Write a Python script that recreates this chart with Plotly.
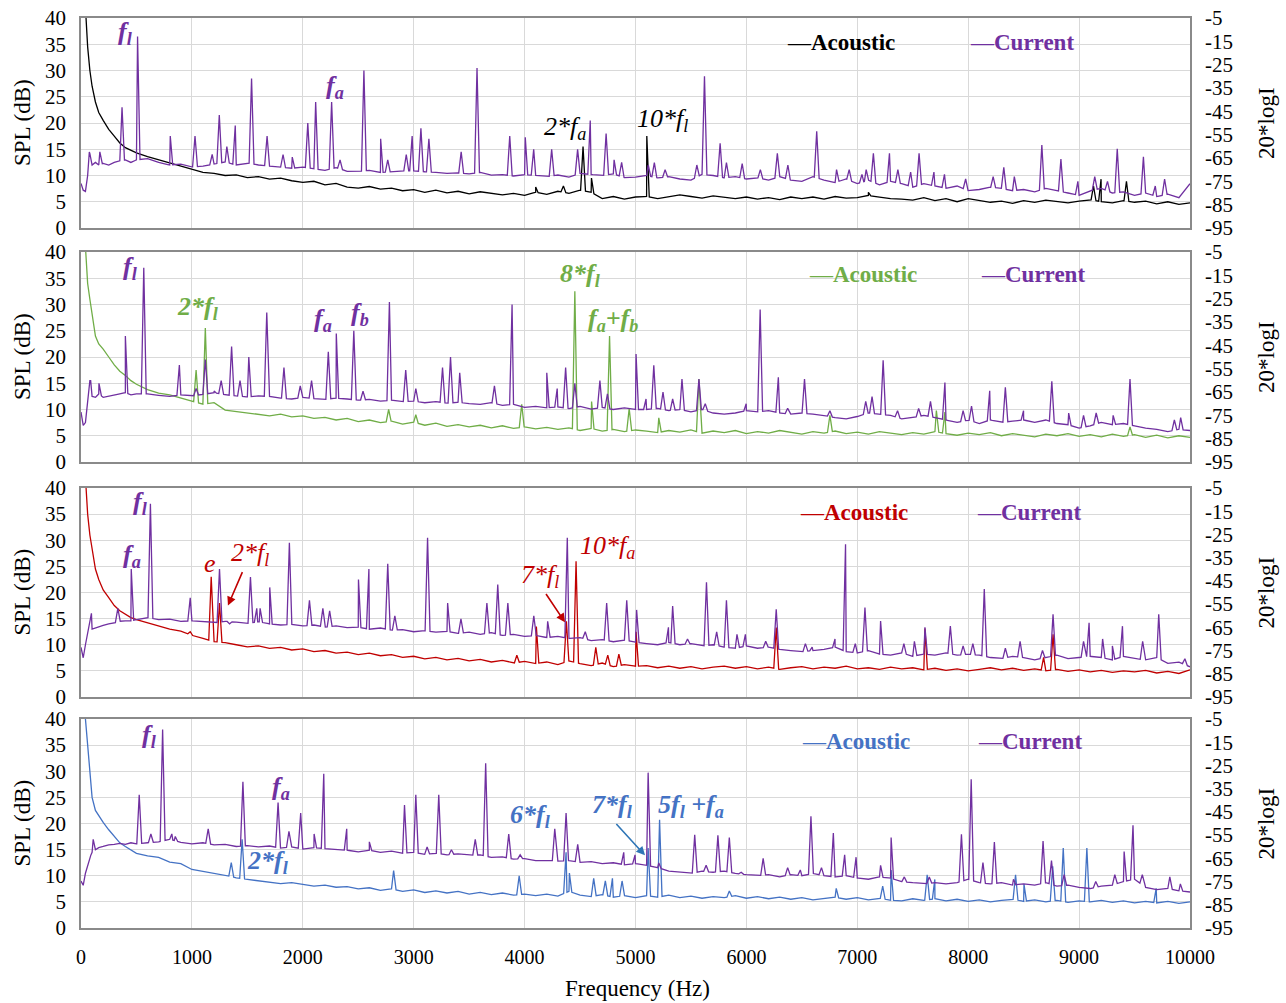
import numpy as np
import plotly.graph_objects as go

# ---------------- data ----------------
FREQ_LOW = [0, 20, 40, 60, 80, 100, 130, 160, 200, 250, 300, 350, 400, 450, 500]
FREQ_GRID = FREQ_LOW + list(range(600, 10001, 100))

X_TICKS = [0, 1000, 2000, 3000, 4000, 5000, 6000, 7000, 8000, 9000, 10000]
Y_LEFT_TICKS = [0, 5, 10, 15, 20, 25, 30, 35, 40]
Y_RIGHT_TICKS = [-95, -85, -75, -65, -55, -45, -35, -25, -15, -5]

# Panel 1 : acoustic (SPL dB) / current (20*logI)
P1_ACOUSTIC = [45, 45, 42, 34.5, 30, 27, 24, 22, 20.5, 18.8, 17.5, 16.2, 15.3, 14.8, 14.3,
               13.6, 13.0, 12.3, 11.8, 11.2, 10.6, 10.4, 10.0, 10.1, 9.6,
               9.8, 9.3, 9.5, 9.0, 8.7, 8.9, 8.2, 8.5, 7.8, 7.6,
               7.9, 7.4, 7.6, 7.1, 7.3, 6.8, 7.2, 6.7, 7.0, 6.5,
               6.9, 6.6, 6.3, 6.6, 6.2, 6.8, 6.4, 7.0, 6.6, 7.2,
               6.8, 5.6, 6.0, 5.5, 5.9,
               6.0, 5.6, 5.9, 6.3, 6.0, 5.7, 6.1, 5.8, 5.6, 5.9,
               5.5, 5.8, 5.4, 5.9, 5.6, 5.9, 5.5, 6.0, 5.7, 5.8,
               6.2, 5.9, 5.6, 5.5, 5.3, 5.8, 5.2, 5.6, 5.0, 5.6,
               5.2, 4.9, 5.1, 4.7, 5.2, 4.9, 5.3, 5.0, 4.8, 5.1,
               5.4, 5.0, 4.8, 5.2, 4.9, 5.1, 4.6, 5.0, 4.5, 4.8]
P1_ACOUSTIC_PEAKS = [(4100, 7.8), (4350, 8.0), (4527, 15.5), (4603, 9.5), (5102, 17.5),
                     (7100, 6.8), (9130, 8.0), (9198, 9.3), (9427, 8.9)]
P1_CURRENT = [-75.9, -78.8, -79.3, -72.5, -63.1, -68.0, -66.9, -68.0, -67.3, -68.0, -66.9, -66.2, -65.8, -66.9, -65.8,
              -65.3, -66.9, -68.0, -67.6, -68.9, -68.5, -67.6, -66.7, -68.0, -67.1,
              -68.0, -68.5, -68.9, -69.4, -68.9, -69.6, -70.3, -69.1, -70.7, -70.7,
              -70.3, -71.2, -70.9, -70.5, -70.5, -70.9, -71.2, -71.6, -71.4, -71.8,
              -71.2, -72.3, -72.1, -72.7, -72.1, -72.5, -73.0, -72.3, -73.2, -71.6,
              -72.1, -72.5, -71.8, -73.4, -73.2,
              -72.5, -73.5, -73.0, -74.0, -74.5, -72.0, -72.5, -73.5, -73.0, -74.0,
              -73.5, -74.5, -73.0, -74.5, -75.0, -73.0, -74.5, -75.5, -74.0, -76.0,
              -74.5, -76.5, -75.0, -76.0, -77.5, -76.0, -77.0, -78.0, -77.0, -79.0,
              -78.5, -77.5, -78.0, -79.0, -78.5, -79.5, -78.0, -79.0, -80.0, -81.0,
              -79.0, -78.0, -80.0, -79.5, -81.0, -80.0, -81.5, -80.5, -82.0, -76.0]
P1_CURRENT_PEAKS = [(75, -62.4), (170, -62.4), (370, -43.3), (510, -12.9), (805, -55.6), (1028, -55.6),
                    (1183, -63.5), (1247, -46.6), (1315, -60.1), (1391, -51.1), (1538, -30.9), (1678, -55.6),
                    (1822, -63.5), (1905, -64.6), (2045, -50.0), (2116, -41.0), (2260, -41.0), (2336, -65.8),
                    (2551, -27.5), (2702, -56.8), (2766, -65.8), (2933, -63.5), (2986, -55.6), (3065, -52.3),
                    (3137, -56.8), (3428, -62.4), (3571, -26.4), (3866, -55.6), (4006, -56.1), (4082, -61.3),
                    (4244, -61.3), (4478, -61.3), (4592, -48.9), (4735, -54.5), (4807, -65.8), (4875, -66.9),
                    (5115, -68.0), (5170, -67.0), (5267, -70.0), (5553, -68.0), (5622, -30.0), (5763, -58.7),
                    (5820, -67.0), (5962, -67.4), (6126, -70.0), (6279, -63.0), (6374, -68.0), (6634, -53.6),
                    (6813, -70.0), (6927, -70.0), (7042, -72.0), (7080, -70.0), (7145, -63.0), (7290, -63.0),
                    (7366, -70.0), (7481, -71.0), (7557, -63.0), (7691, -71.0), (7786, -72.0), (7977, -74.0),
                    (8225, -73.0), (8321, -69.0), (8416, -73.0), (8664, -59.4), (8836, -65.5), (8989, -75.0),
                    (9141, -73.0), (9256, -75.0), (9344, -61.0), (9580, -64.5), (9687, -77.0), (9771, -74.0)]

# Panel 2
P2_ACOUSTIC = [45, 45, 41, 34, 31, 28, 24, 22.5, 21.5, 20, 18.5, 17.3, 16.5, 15.5, 14.8,
               13.8, 13.1, 12.8, 12.2, 11.6, 11.0, 11.3, 9.9, 9.6, 9.4,
               9.0, 8.8, 9.1, 8.6, 8.8, 8.3, 8.5, 8.0, 8.3, 7.7,
               8.0, 7.5, 7.8, 7.2, 7.6, 7.0, 7.4, 6.8, 7.1, 6.7,
               7.0, 6.5, 6.9, 6.4, 6.7, 6.3, 6.6, 6.2, 6.5, 6.0,
               6.4, 5.9, 6.2, 5.8, 6.1,
               5.9, 5.6, 6.0, 5.7, 6.1, 5.5, 5.9, 5.6, 6.0, 5.4,
               5.8, 5.5, 6.0, 5.6, 5.3, 5.8, 5.5, 5.9, 5.4, 5.7,
               5.3, 5.8, 5.5, 5.2, 5.6, 5.3, 5.8, 5.4, 5.1, 5.5,
               5.2, 5.6, 5.0, 5.4, 5.1, 4.8, 5.3, 5.0, 5.4, 4.9,
               5.2, 4.8, 5.3, 4.9, 5.2, 4.7, 5.1, 4.6, 5.0, 4.7]
P2_ACOUSTIC_PEAKS = [(1038, 17.5), (1121, 25.5), (2774, 10.0), (3019, 9.0), (3974, 11.0), (4453, 32.5),
                     (4604, 11.5), (4766, 24.0), (4943, 10.2), (5210, 8.4), (5572, 15.8), (6753, 8.9),
                     (7713, 9.8), (7790, 9.5), (9459, 6.7)]
P2_CURRENT = [-73.6, -79.3, -78.1, -70.3, -60.1, -66.9, -67.3, -65.8, -67.3, -66.9, -66.2, -65.8, -65.3, -66.2, -65.8,
              -65.8, -66.4, -66.9, -66.2, -66.7, -66.0, -65.3, -66.2, -66.7, -67.1,
              -66.7, -66.9, -67.6, -68.0, -67.3, -67.8, -68.2, -67.6, -68.0, -68.5,
              -68.2, -68.9, -68.5, -69.1, -68.9, -69.6, -69.1, -69.8, -69.4, -70.0,
              -70.3, -69.6, -70.7, -70.3, -71.6, -71.2, -71.8, -71.4, -72.1, -71.2,
              -72.3, -71.6, -72.5, -71.8, -72.5,
              -72.5, -72.0, -73.0, -72.5, -73.5, -72.5, -74.0, -74.5, -74.0, -73.0,
              -73.5, -73.0, -74.0, -74.5, -74.0, -74.5, -75.0, -76.0, -76.5, -75.5,
              -74.0, -74.5, -75.0, -76.5, -76.0, -75.0, -76.0, -77.0, -78.0, -77.0,
              -78.5, -77.0, -78.0, -77.5, -77.0, -78.0, -77.0, -78.5, -79.0, -80.5,
              -79.5, -78.0, -79.0, -78.5, -79.5, -80.5, -81.0, -82.0, -81.0, -81.5]
P2_CURRENT_PEAKS = [(87, -60.1), (162, -61.3), (400, -41.0), (566, -11.8), (887, -53.4), (1038, -63.5),
                    (1121, -51.1), (1200, -64.6), (1264, -60.1), (1358, -45.5), (1434, -60.1), (1513, -50.0),
                    (1675, -30.9), (1830, -54.5), (1977, -62.4), (2079, -60.1), (2230, -47.8), (2302, -39.9),
                    (2460, -38.8), (2543, -64.6), (2781, -26.4), (2928, -55.6), (3019, -63.5), (3260, -54.5),
                    (3332, -50.0), (3415, -56.8), (3728, -62.4), (3887, -27.5), (4200, -56.8), (4294, -63.5),
                    (4370, -54.5), (4453, -61.3), (4679, -60.1), (4747, -65.8), (5005, -48.7), (5095, -68.0),
                    (5165, -53.5), (5248, -65.0), (5335, -68.0), (5419, -59.4), (5572, -59.4), (5629, -70.0),
                    (5998, -70.0), (6124, -29.7), (6288, -58.7), (6372, -72.0), (6524, -59.4), (6753, -73.0),
                    (7076, -69.0), (7133, -67.0), (7233, -51.4), (7363, -73.0), (7553, -72.0), (7660, -69.0),
                    (7790, -60.9), (7954, -73.0), (8030, -71.0), (8194, -64.5), (8335, -63.0), (8499, -73.0),
                    (8754, -60.4), (8906, -74.0), (9040, -75.0), (9154, -74.0), (9307, -75.0), (9459, -59.4),
                    (9859, -77.0), (9916, -76.0)]

# Panel 3
P3_ACOUSTIC = [45, 45, 42, 35, 31, 28, 24.5, 22.5, 20.5, 19, 17.5, 16.5, 15.8, 15.2, 14.8,
               14.2, 13.6, 13.0, 12.6, 11.8, 11.2, 10.6, 10.4, 10.0, 9.6,
               9.8, 9.3, 9.5, 9.0, 9.2, 8.7, 8.9, 8.4, 8.6, 8.1,
               8.4, 7.9, 8.1, 7.6, 7.8, 7.3, 7.6, 7.1, 7.4, 6.9,
               7.2, 6.7, 7.0, 6.5, 6.8, 6.4, 6.7, 6.2, 6.9, 6.4,
               6.0, 6.5, 5.8, 6.2, 5.9,
               6.0, 5.6, 5.9, 5.5, 5.8, 5.4, 5.7, 5.9, 5.5, 5.8,
               5.4, 5.7, 5.3, 5.6, 5.8, 5.4, 5.7, 5.5, 5.9, 5.4,
               5.6, 5.3, 5.7, 5.4, 5.6, 5.2, 5.5, 5.1, 5.4, 5.0,
               5.3, 5.6, 5.2, 5.5, 5.1, 5.4, 5.0, 5.3, 4.9, 5.2,
               4.8, 5.1, 4.7, 5.0, 4.8, 5.1, 4.6, 4.9, 4.5, 5.2]
P3_ACOUSTIC_PEAKS = [(985, 12.5), (1174, 23.0), (1249, 18.0), (3930, 8.0), (4106, 13.5), (4377, 14.5),
                     (4464, 26.0), (4642, 9.5), (4750, 8.0), (4850, 8.2), (5005, 12.5), (6269, 13.3),
                     (7610, 13.1), (8680, 7.6), (8765, 12.0)]
P3_CURRENT = [-73.6, -78.1, -72.5, -66.9, -62.4, -65.8, -65.3, -64.6, -64.2, -63.5, -63.1, -62.4, -62.2, -62.2, -61.7,
              -60.8, -61.7, -61.5, -62.4, -62.2, -62.6, -63.1, -62.4, -62.8, -63.3,
              -62.6, -63.5, -64.0, -63.7, -64.4, -64.0, -64.9, -64.4, -65.1, -64.9,
              -65.8, -65.3, -66.2, -66.0, -66.9, -66.4, -67.1, -66.7, -67.6, -67.1,
              -68.0, -67.3, -68.5, -68.0, -68.9, -68.5, -69.4, -68.9, -69.8, -69.4,
              -70.7, -70.3, -71.2, -70.5, -71.4,
              -72.0, -72.5, -71.5, -72.5, -72.0, -73.0, -72.5, -73.5, -74.0, -73.0,
              -74.0, -73.5, -74.5, -75.0, -75.5, -75.0, -74.5, -73.5, -75.5, -76.0,
              -75.0, -76.5, -77.0, -76.0, -77.5, -76.5, -77.0, -76.0, -77.0, -76.5,
              -77.0, -78.0, -78.5, -77.5, -78.0, -79.0, -78.0, -77.0, -78.5, -78.0,
              -77.5, -78.0, -79.0, -77.5, -78.5, -79.0, -78.0, -80.5, -80.0, -82.0]
P3_CURRENT_PEAKS = [(94, -59.0), (332, -56.8), (453, -39.9), (626, -11.8), (985, -52.3), (1249, -39.9),
                    (1340, -63.5), (1528, -43.3), (1585, -56.8), (1615, -56.8), (1702, -47.8), (1879, -28.6),
                    (2060, -53.4), (2181, -56.8), (2242, -57.9), (2502, -44.4), (2596, -39.9), (2766, -37.6),
                    (2830, -60.1), (3125, -26.4), (3306, -54.5), (3426, -61.3), (3660, -54.5), (3758, -46.6),
                    (3849, -54.5), (4083, -60.1), (4208, -62.4), (4385, -26.4), (4547, -66.9), (4740, -54.5),
                    (4921, -53.4), (5010, -57.5), (5297, -65.0), (5335, -55.8), (5469, -70.0), (5640, -45.6),
                    (5732, -67.0), (5820, -53.3), (5915, -68.0), (5991, -68.0), (6174, -71.0), (6269, -57.2),
                    (6532, -72.0), (6593, -73.5), (6799, -70.0), (6894, -29.2), (6982, -72.0), (7069, -56.5),
                    (7210, -62.3), (7420, -72.0), (7515, -71.0), (7610, -65.0), (7839, -64.5), (7954, -73.0),
                    (8042, -72.0), (8145, -48.5), (8335, -74.0), (8468, -71.0), (8670, -75.0), (8765, -59.4),
                    (9040, -71.0), (9090, -63.0), (9212, -70.0), (9300, -73.0), (9391, -64.5), (9573, -71.0),
                    (9718, -59.4), (9954, -78.5)]

# Panel 4
P4_ACOUSTIC = [45, 45, 40, 34.5, 30, 25, 22.5, 21.5, 20.2, 18.8, 17.5, 16.3, 15.6, 15.0, 14.3,
               13.8, 13.5, 12.6, 12.3, 11.2, 10.8, 10.4, 10.1, 9.6, 9.3,
               9.0, 8.8, 8.5, 8.7, 8.3, 8.0, 8.2, 7.8, 7.9, 7.5,
               7.7, 7.2, 7.5, 7.0, 7.3, 6.8, 7.1, 6.7, 7.0, 6.5,
               6.8, 6.4, 6.7, 6.3, 6.5, 6.2, 6.5, 6.1, 7.0, 6.3,
               6.0, 6.4, 5.9, 6.2, 5.8,
               6.2, 5.9, 6.3, 5.8, 6.1, 5.7, 6.0, 5.8, 6.2, 5.7,
               6.0, 5.6, 5.9, 5.5, 5.8, 5.4, 5.7, 5.9, 5.5, 5.8,
               5.4, 5.7, 5.3, 5.2, 5.6, 5.3, 5.6, 5.2, 5.5, 5.1,
               5.4, 5.0, 5.3, 5.5, 5.1, 5.4, 5.0, 5.3, 4.9, 5.2,
               5.0, 5.3, 4.9, 5.2, 4.8, 5.1, 4.8, 5.1, 4.7, 5.0]
P4_ACOUSTIC_PEAKS = [(1355, 12.5), (1453, 17.0), (2819, 11.0), (3951, 10.0), (4374, 14.5), (4404, 10.5),
                     (4623, 9.5), (4728, 9.0), (4792, 9.5), (4879, 9.0), (5114, 15.3), (5217, 20.7),
                     (5846, 7.1), (6810, 7.6), (7229, 8.0), (7305, 11.1), (7630, 10.2), (7699, 9.3),
                     (8427, 10.2), (8503, 8.4), (8762, 11.8), (8857, 15.3), (9070, 15.3), (9695, 7.6)]
P4_CURRENT = [-74.8, -76.6, -71.4, -68.0, -64.6, -62.4, -61.3, -60.4, -59.9, -59.2, -59.0, -58.6, -59.0, -58.3, -58.8,
              -58.3, -57.9, -56.8, -58.1, -58.8, -58.3, -59.2, -59.0, -59.9, -59.5,
              -60.1, -59.7, -60.6, -60.1, -61.0, -60.4, -60.8, -61.3, -61.5, -62.2,
              -61.5, -62.4, -61.9, -62.8, -62.4, -63.3, -62.8, -63.5, -63.1, -63.7,
              -63.5, -64.6, -64.4, -65.3, -65.1, -66.0, -65.8, -66.2, -66.0, -66.7,
              -66.4, -67.3, -66.9, -67.8, -67.3,
              -68.0, -69.0, -70.5, -71.0, -71.5, -70.5, -71.0, -70.5, -71.5, -72.0,
              -72.5, -72.0, -73.0, -72.0, -72.5, -71.5, -72.5, -73.0, -72.5, -73.5,
              -74.0, -73.0, -73.5, -75.0, -75.5, -76.0, -75.5, -76.0, -75.5, -74.0,
              -75.5, -76.0, -75.5, -76.5, -76.0, -76.5, -75.5, -77.0, -76.5, -77.5,
              -78.0, -77.0, -76.5, -75.0, -74.0, -77.5, -78.5, -78.0, -79.0, -79.5]
P4_CURRENT_PEAKS = [(110, -56.8), (525, -37.6), (630, -54.5), (736, -9.5), (819, -54.5), (850, -55.6),
                    (1147, -52.3), (1460, -32.0), (1777, -41.0), (1875, -53.4), (1981, -45.5), (2102, -54.5),
                    (2189, -28.6), (2396, -52.3), (2600, -57.9), (2917, -42.1), (3019, -37.6), (3121, -60.1),
                    (3226, -37.6), (3340, -61.3), (3555, -56.8), (3649, -24.1), (3857, -54.5), (3960, -63.5),
                    (4272, -52.3), (4374, -45.5), (4479, -59.0), (4894, -62.4), (4996, -63.5), (5114, -28.1),
                    (5210, -67.0), (5534, -54.9), (5637, -68.0), (5743, -55.1), (5846, -56.0), (5953, -71.0),
                    (6151, -65.0), (6372, -69.0), (6486, -70.0), (6582, -46.9), (6677, -69.0), (6784, -54.1),
                    (6886, -63.5), (6989, -64.5), (7210, -68.0), (7305, -56.0), (7424, -73.0), (7649, -73.0),
                    (7939, -54.6), (8027, -31.0), (8133, -66.8), (8236, -58.0), (8408, -74.0), (8675, -57.5),
                    (8751, -66.0), (8865, -72.0), (9150, -75.0), (9322, -72.0), (9406, -62.1), (9486, -50.8),
                    (9570, -72.0), (9818, -73.0), (9913, -76.0)]

SERIES_NAMES = ["Acoustic", "Current"]

# ---------------- styling ----------------
PURPLE = "#7030A0"
ACOUSTIC_COLORS = ["#000000", "#70AD47", "#C00000", "#4472C4"]
FONT = "Liberation Serif"
GRID = "#d9d9d9"
FRAME = "#8a8a8a"

W, H = 1286, 1003
ML, MR, MT, MB = 81, 96, 18, 75
PLOT_H = H - MT - MB
PLOT_W = W - ML - MR
PANEL_PX = [(18, 228), (252, 462), (488, 697), (719, 928)]
PEAK_HALF = 22


def build(base, peaks):
    f = np.array(FREQ_GRID, dtype=float)
    v = np.array(base, dtype=float)
    assert len(f) == len(v)
    xs, ys = list(f), list(v)
    for pf, pv in peaks:
        for off in (-PEAK_HALF, PEAK_HALF):
            xs.append(pf + off)
            ys.append(float(np.interp(pf + off, f, v)))
        xs.append(pf)
        ys.append(pv)
    order = np.argsort(np.array(xs), kind="stable")
    return np.array(xs)[order], np.array(ys)[order]


panels = [
    (P1_ACOUSTIC, P1_ACOUSTIC_PEAKS, P1_CURRENT, P1_CURRENT_PEAKS),
    (P2_ACOUSTIC, P2_ACOUSTIC_PEAKS, P2_CURRENT, P2_CURRENT_PEAKS),
    (P3_ACOUSTIC, P3_ACOUSTIC_PEAKS, P3_CURRENT, P3_CURRENT_PEAKS),
    (P4_ACOUSTIC, P4_ACOUSTIC_PEAKS, P4_CURRENT, P4_CURRENT_PEAKS),
]

fig = go.Figure()
layout = dict(width=W, height=H, margin=dict(l=ML, r=MR, t=MT, b=MB, autoexpand=False),
              paper_bgcolor="white", plot_bgcolor="white", showlegend=False,
              font=dict(family=FONT, size=20, color="black"))
annotations = []
shapes = []


def dom(top, bot):
    return [(H - MB - bot) / PLOT_H, (H - MB - top) / PLOT_H]


for i, (ac, acp, cu, cup) in enumerate(panels, start=1):
    xk = "x" if i == 1 else f"x{i}"
    yl = "y" if i == 1 else f"y{i}"
    yr = f"y{i + 4}"
    xa, ya = build(ac, acp)
    xc, yc = build(cu, cup)
    fig.add_trace(go.Scatter(x=xa, y=ya, mode="lines", name=SERIES_NAMES[0], xaxis=xk, yaxis=yl,
                             line=dict(color=ACOUSTIC_COLORS[i - 1], width=1.3)))
    fig.add_trace(go.Scatter(x=xc, y=yc, mode="lines", name=SERIES_NAMES[1], xaxis=xk, yaxis=yr,
                             line=dict(color=PURPLE, width=1.3)))
    top, bot = PANEL_PX[i - 1]
    d = dom(top, bot)
    layout["xaxis" if i == 1 else f"xaxis{i}"] = dict(
        domain=[0, 1], anchor=yl, range=[0, 10000], tickvals=X_TICKS,
        ticktext=[str(t) for t in X_TICKS], showticklabels=(i == 4),
        showgrid=True, gridcolor=GRID, gridwidth=1, zeroline=False,
        showline=True, linecolor=FRAME, linewidth=1.5, mirror=True, ticks="",
        tickfont=dict(family=FONT, size=20), ticklabelstandoff=10)
    layout["yaxis" if i == 1 else f"yaxis{i}"] = dict(
        domain=d, anchor=xk, range=[0, 40], tickvals=Y_LEFT_TICKS,
        ticktext=[str(t) for t in Y_LEFT_TICKS],
        showgrid=True, gridcolor=GRID, gridwidth=1, zeroline=False,
        showline=True, linecolor=FRAME, linewidth=1.5, mirror=True, ticks="",
        tickfont=dict(family=FONT, size=21), ticklabelstandoff=9)
    layout[f"yaxis{i + 4}"] = dict(
        overlaying=yl, side="right", anchor=xk, range=[-95, -5], tickvals=Y_RIGHT_TICKS,
        ticktext=[str(t) for t in Y_RIGHT_TICKS], showgrid=False, zeroline=False,
        showline=False, ticks="", tickfont=dict(family=FONT, size=21), ticklabelstandoff=14)
    # axis titles
    yc_paper = (d[0] + d[1]) / 2
    annotations.append(dict(text="SPL (dB)", xref="paper", yref="paper", x=(22 - ML) / PLOT_W,
                            y=yc_paper, textangle=-90, showarrow=False, xanchor="center", yanchor="middle",
                            font=dict(family=FONT, size=23)))
    annotations.append(dict(text="20*logI", xref="paper", yref="paper", x=(1266 - ML) / PLOT_W,
                            y=yc_paper, textangle=-90, showarrow=False, xanchor="center", yanchor="middle",
                            font=dict(family=FONT, size=23)))

# legend boxes and texts
LEG = [  # box x0, x1, text y, acoustic x, current x
    (5670, 9580, 35.4, 6853, 8485),
    (6000, 9570, 35.8, 7051, 8584),
    (5880, 9570, 35.4, 6970, 8548),
    (5880, 9570, 35.6, 6988, 8557),
]
for i, (bx0, bx1, ty, axx, cxx) in enumerate(LEG, start=1):
    xk = "x" if i == 1 else f"x{i}"
    yl = "y" if i == 1 else f"y{i}"
    shapes.append(dict(type="rect", xref=xk, yref=yl, x0=bx0, x1=bx1, y0=ty - 2.3, y1=ty + 2.3,
                       fillcolor="white", line=dict(width=0), layer="below"))
    annotations.append(dict(text="—<b>" + SERIES_NAMES[0] + "</b>", xref=xk, yref=yl, x=axx, y=ty,
                            showarrow=False, font=dict(family=FONT, size=23, color=ACOUSTIC_COLORS[i - 1])))
    annotations.append(dict(text="—<b>" + SERIES_NAMES[1] + "</b>", xref=xk, yref=yl, x=cxx, y=ty,
                            showarrow=False, font=dict(family=FONT, size=23, color=PURPLE)))

BI = "<b><i>{}</i></b>"
IT = "<i>{}</i>"
LABELS = [
    # panel, text, x(Hz), y(dB), color
    (1, BI.format("f<sub>l</sub>"), 397, 37.1, PURPLE),
    (1, BI.format("f<sub>a</sub>"), 2290, 26.9, PURPLE),
    (1, IT.format("2*f<sub>a</sub>"), 4364, 19.0, "#000000"),
    (1, IT.format("10*f<sub>l</sub>"), 5239, 20.6, "#000000"),
    (2, BI.format("f<sub>l</sub>"), 442, 37.0, PURPLE),
    (2, BI.format("2*f<sub>l</sub>"), 1055, 29.3, "#70AD47"),
    (2, BI.format("f<sub>a</sub>"), 2182, 27.0, PURPLE),
    (2, BI.format("f<sub>b</sub>"), 2516, 28.2, PURPLE),
    (2, BI.format("8*f<sub>l</sub>"), 4500, 35.6, "#70AD47"),
    (2, BI.format("f<sub>a</sub>+f<sub>b</sub>"), 4800, 27.0, "#70AD47"),
    (3, BI.format("f<sub>l</sub>"), 532, 37.1, PURPLE),
    (3, BI.format("f<sub>a</sub>"), 460, 27.0, PURPLE),
    (3, IT.format("e"), 1163, 25.5, "#C00000"),
    (3, IT.format("2*f<sub>l</sub>"), 1524, 27.4, "#C00000"),
    (3, IT.format("7*f<sub>l</sub>"), 4139, 23.2, "#C00000"),
    (3, IT.format("10*f<sub>a</sub>"), 4743, 28.8, "#C00000"),
    (4, BI.format("f<sub>l</sub>"), 622, 36.8, PURPLE),
    (4, BI.format("f<sub>a</sub>"), 1803, 26.7, PURPLE),
    (4, BI.format("2*f<sub>l</sub>"), 1686, 12.6, "#4472C4"),
    (4, BI.format("6*f<sub>l</sub>"), 4049, 21.5, "#4472C4"),
    (4, BI.format("7*f<sub>l</sub>"), 4797, 23.4, "#4472C4"),
    (4, BI.format("5f<sub>l</sub> +f<sub>a</sub>"), 5500, 23.4, "#4472C4"),
]
for p, txt, x, y, col in LABELS:
    xk = "x" if p == 1 else f"x{p}"
    yl = "y" if p == 1 else f"y{p}"
    annotations.append(dict(text=txt, xref=xk, yref=yl, x=x, y=y, showarrow=False,
                            xanchor="center", yanchor="middle",
                            font=dict(family=FONT, size=26, color=col)))

ARROWS = [  # panel, tail x, tail y, head x, head y, color
    (3, 1461, 24.2, 1325, 17.5, "#C00000"),
    (3, 4184, 20.0, 4364, 14.3, "#C00000"),
    (4, 4815, 20.2, 5086, 13.9, "#2E75B6"),
]
for p, tx, ty, hx, hy, col in ARROWS:
    xk = "x" if p == 1 else f"x{p}"
    yl = "y" if p == 1 else f"y{p}"
    annotations.append(dict(text="", xref=xk, yref=yl, x=hx, y=hy, ax=tx, ay=ty, axref=xk, ayref=yl,
                            showarrow=True, arrowhead=2, arrowsize=1.1, arrowwidth=1.6, arrowcolor=col))

annotations.append(dict(text="Frequency (Hz)", xref="paper", yref="paper", x=(637 - ML) / PLOT_W,
                        y=(928 - 988) / PLOT_H, showarrow=False, xanchor="center", yanchor="middle",
                        font=dict(family=FONT, size=23)))

layout["annotations"] = annotations
layout["shapes"] = shapes
fig.update_layout(**layout)
fig.write_html("out.html", config={"displayModeBar": False},
               post_script="document.body.style.margin='0px';document.body.style.overflow='hidden';")
